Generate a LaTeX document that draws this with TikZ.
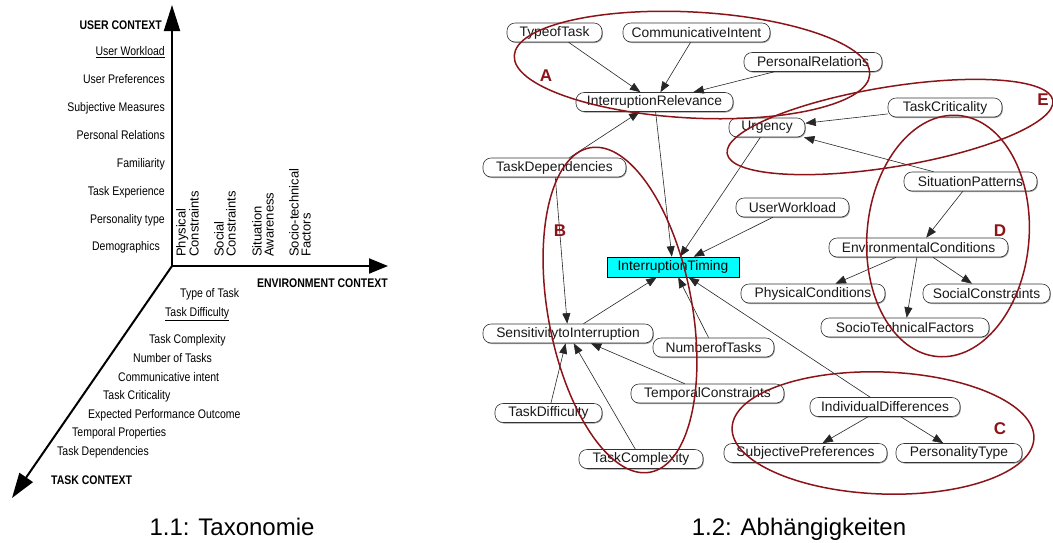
\documentclass[tikz,border=0pt]{standalone}
\usepackage{fontspec}
\setmainfont{Liberation Sans}
\newfontfamily\condfont[FakeStretch=0.84]{Liberation Sans}
\usetikzlibrary{arrows.meta,shapes.geometric,shadows}
\definecolor{ellred}{RGB}{140,20,25}
\definecolor{itcyan}{RGB}{0,255,255}
\begin{document}
\begin{tikzpicture}[x=1pt,y=-1pt,
  axis/.style={line width=2pt},
  ulab/.style={font=\condfont\fontsize{12.5}{14}\selectfont, inner sep=0pt, anchor=base east},
  tlab/.style={font=\condfont\fontsize{12.5}{14}\selectfont, inner sep=0pt, anchor=base west},
  axlab/.style={font=\condfont\bfseries\fontsize{12.5}{14}\selectfont, inner sep=0pt},
  envlab/.style={font=\fontsize{13}{12}\selectfont, inner sep=0pt, rotate=90, anchor=north west, align=left},
  gnode/.style={draw=black!80, line width=0.6pt, rounded corners=8pt, fill=white, minimum height=19pt, inner sep=0pt, font=\fontsize{13.8}{15}\selectfont, text=black!90, general shadow={fill=black!40, shadow xshift=0.8pt, shadow yshift=-1pt}},
  garrow/.style={draw=black!85, line width=0.6pt, -{Triangle[length=10.5pt,width=8pt]}},
  grp/.style={draw=ellred, line width=1.5pt, ellipse, inner sep=0pt},
  grplab/.style={font=\bfseries\fontsize{17}{17}\selectfont, text=ellred, inner sep=0pt},
  captionlab/.style={font=\fontsize{24}{26}\selectfont, anchor=base, inner sep=0pt}
]
\useasboundingbox (0,0) rectangle (1053,542);

% ---------------- left panel: taxonomy ----------------
\coordinate (O) at (172,266);
\coordinate (Utip) at (172,5);
\coordinate (Etip) at (388,266);
\coordinate (Ttip) at (12,498);
\draw[axis, -{Triangle[length=26pt,width=16pt]}] (O) -- (Utip);
\draw[axis, -{Triangle[length=19pt,width=15pt]}] (O) -- (Etip);
\draw[axis, -{Triangle[length=25pt,width=16pt]}] (O) -- (Ttip);

\node[axlab, anchor=base east] (uctx) at (162,29) {USER CONTEXT};
\node[ulab] (u1) at (165,55.5) {\underline{User Workload}};
\node[ulab] (u2) at (165,83.5) {User Preferences};
\node[ulab] (u3) at (165,111.5) {Subjective Measures};
\node[ulab] (u4) at (165,139.5) {Personal Relations};
\node[ulab] (u5) at (165,167.5) {Familiarity};
\node[ulab] (u6) at (165,195.5) {Task Experience};
\node[ulab] (u7) at (165,223.5) {Personality type};
\node[ulab] (u8) at (160,250.5) {Demographics};

\node[envlab] (e1) at (176,257) {Physical\\Constraints};
\node[envlab] (e2) at (214,257) {Social\\Constraints};
\node[envlab] (e3) at (252,257) {Situation\\Awareness};
\node[envlab] (e4) at (289,257) {Socio-technical\\Factors};
\node[axlab, anchor=base east] (ectx) at (388,287) {ENVIRONMENT CONTEXT};

\node[tlab] (t1) at (180,297.5) {Type of Task};
\node[tlab] (t2) at (165,316.5) {\underline{Task Difficulty}};
\node[tlab] (t3) at (149,343.5) {Task Complexity};
\node[tlab] (t4) at (133,362.5) {Number of Tasks};
\node[tlab] (t5) at (118,381.5) {Communicative intent};
\node[tlab] (t6) at (103,399.5) {Task Criticality};
\node[tlab] (t7) at (88,418.5) {Expected Performance Outcome};
\node[tlab] (t8) at (72,436.5) {Temporal Properties};
\node[tlab] (t9) at (57,455.5) {Task Dependencies};
\node[axlab, anchor=base west] (tctx) at (51,484.5) {TASK CONTEXT};

\node[captionlab] (cap1) at (232,535) {1.1: Taxonomie};

% ---------------- right panel: dependencies ----------------
\node[gnode, minimum width=95pt] (ttask) at (554.5,32.5) {TypeofTask};
\node[gnode, minimum width=147pt] (cintent) at (696.5,32.5) {CommunicativeIntent};
\node[gnode, minimum width=138pt] (prel) at (813,62) {PersonalRelations};
\node[gnode, minimum width=157pt] (irel) at (654.5,102) {InterruptionRelevance};
\node[gnode, minimum width=76pt] (urg) at (767,127.5) {Urgency};
\node[gnode, minimum width=114pt] (tcrit) at (945,107.5) {TaskCriticality};
\node[gnode, minimum width=143pt] (tdep) at (554.5,167.5) {TaskDependencies};
\node[gnode, minimum width=133pt] (sitp) at (970.5,181.5) {SituationPatterns};
\node[gnode, minimum width=113pt] (uwl) at (792.5,207.5) {UserWorkload};
\node[gnode, minimum width=179pt] (envc) at (918.5,247.5) {EnvironmentalConditions};
\node[draw=black, line width=0.6pt, fill=itcyan, minimum width=132pt, minimum height=20pt, inner sep=0pt, font=\fontsize{13.8}{15}\selectfont, general shadow={fill=black!40, shadow xshift=0.8pt, shadow yshift=-1pt}] (itim) at (673,267) {InterruptionTiming};
\node[gnode, minimum width=144pt] (phys) at (813,293.5) {PhysicalConditions};
\node[gnode, minimum width=127pt] (socc) at (986.5,293.5) {SocialConstraints};
\node[gnode, minimum width=168pt] (stf) at (905,327.5) {SocioTechnicalFactors};
\node[gnode, minimum width=170pt] (sens) at (568,333.5) {SensitivitytoInterruption};
\node[gnode, minimum width=121pt] (ntask) at (713.5,347.5) {NumberofTasks};
\node[gnode, minimum width=153pt] (tempc) at (707.5,393.5) {TemporalConstraints};
\node[gnode, minimum width=107pt] (tdiff) at (548.5,413) {TaskDifficulty};
\node[gnode, minimum width=124pt] (tcomp) at (641,459) {TaskComplexity};
\node[gnode, minimum width=150pt] (indd) at (885,407) {IndividualDifferences};
\node[gnode, minimum width=163pt] (subj) at (805.5,453) {SubjectivePreferences};
\node[gnode, minimum width=126pt] (pers) at (959,453) {PersonalityType};

\draw[garrow] (ttask) -- (irel);
\draw[garrow] (cintent) -- (irel);
\draw[garrow] (prel) -- (irel);
\draw[garrow] (tdep) -- (irel);
\draw[garrow] (irel) -- (itim);
\draw[garrow] (urg) -- (itim);
\draw[garrow] (uwl) -- (itim);
\draw[garrow] (tcrit) -- (urg);
\draw[garrow] (sitp) -- (urg);
\draw[garrow] (sitp) -- (envc);
\draw[garrow] (envc) -- (phys);
\draw[garrow] (envc) -- (stf);
\draw[garrow] (envc) -- (socc);
\draw[garrow] (tdep) -- (sens);
\draw[garrow] (sens) -- (itim);
\draw[garrow] (ntask) -- (itim);
\draw[garrow] (indd) -- (itim);
\draw[garrow] (tempc) -- (sens);
\draw[garrow] (tdiff) -- (sens);
\draw[garrow] (tcomp) -- (sens);
\draw[garrow] (indd) -- (subj);
\draw[garrow] (indd) -- (pers);

% groups
\node[grp, minimum width=356pt, minimum height=106pt, rotate=-3] (gA) at (692,65) {};
\node[grp, minimum width=144pt, minimum height=330pt, rotate=10.5] (gB) at (620,310) {};
\node[grp, minimum width=302pt, minimum height=122pt, rotate=-2] (gC) at (883,433) {};
\node[grp, minimum width=162pt, minimum height=242pt, rotate=-5] (gD) at (948,236) {};
\node[grp, minimum width=330pt, minimum height=80pt, rotate=9.3] (gE) at (890,127) {};
\node[grplab] (lA) at (546,76) {A};
\node[grplab] (lB) at (560,231) {B};
\node[grplab] (lC) at (1000,429) {C};
\node[grplab] (lD) at (1000,231) {D};
\node[grplab] (lE) at (1043,100) {E};

\node[captionlab] (cap2) at (799,535) {1.2: Abhängigkeiten};
\end{tikzpicture}
\end{document}
